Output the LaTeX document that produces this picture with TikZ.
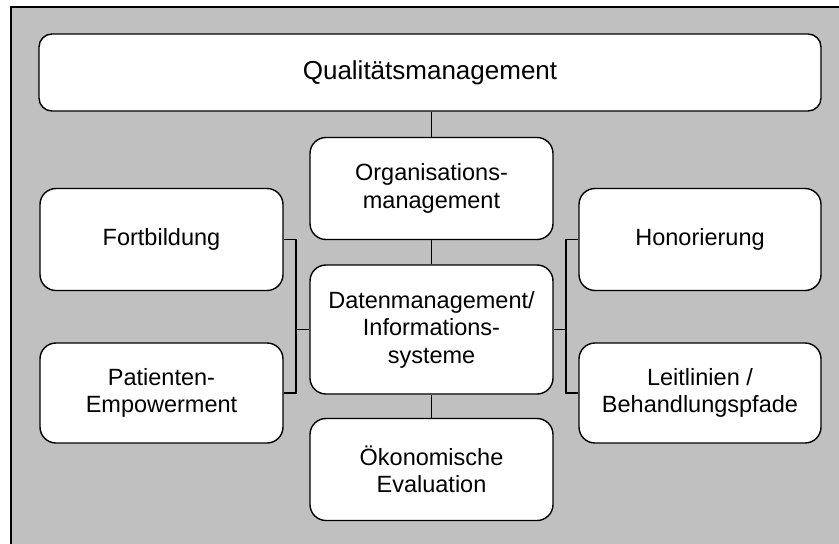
\documentclass[tikz,border=0pt]{standalone}
\usepackage{fontspec}
\setmainfont{Liberation Sans}
\begin{document}
\begin{tikzpicture}[x=1pt,y=-1pt,
  box/.style={draw=black, fill=white, line width=1.4pt, rounded corners=16pt,
    minimum width=243pt, minimum height=102pt, inner sep=0pt, align=center,
    font=\fontsize{23.5}{27.5}\selectfont},
  topbox/.style={box, rounded corners=13pt, minimum width=782pt, minimum height=77pt,
    font=\fontsize{26}{30}\selectfont},
  link/.style={draw=black, line width=1.3pt}]
\useasboundingbox (0,0) rectangle (839,544);
\clip (0,0) rectangle (839,544);
% panel
\draw[fill={rgb,255:red,192;green,192;blue,192}, line width=1.8pt] (11,7) rectangle (860,570);
% boxes
\node[topbox] (qm) at (430,72.5) {Qualitätsmanagement};
\node[box] (org) at (431.5,188.5) {Organisations-\\management};
\node[box, minimum height=129pt] (dat) at (431.5,329.5) {Datenmanagement/\\Informations-\\systeme};
\node[box] (oek) at (431.5,469.5) {Ökonomische\\Evaluation};
\node[box] (fort) at (161.5,239.5) {Fortbildung};
\node[box, minimum height=100pt] (pat) at (161.5,393) {Patienten-\\Empowerment};
\node[box, minimum width=242pt] (hon) at (700,239.5) {Honorierung};
\node[box, minimum width=242pt, minimum height=100pt] (leit) at (700,393) {Leitlinien /\\Behandlungspfade};
% vertical spine
\draw[link] (qm.south -| org.north) -- (org.north);
\draw[link] (org.south) -- (dat.north);
\draw[link] (dat.south) -- (oek.north);
% left bracket
\coordinate (lb) at (296,329.5);
\draw[link] (fort.east) -| (lb) |- (pat.east);
\draw[link] (dat.west) -- (lb);
% right bracket
\coordinate (rb) at (566,329.5);
\draw[link] (hon.west) -| (rb) |- (leit.west);
\draw[link] (dat.east) -- (rb);
\end{tikzpicture}
\end{document}
